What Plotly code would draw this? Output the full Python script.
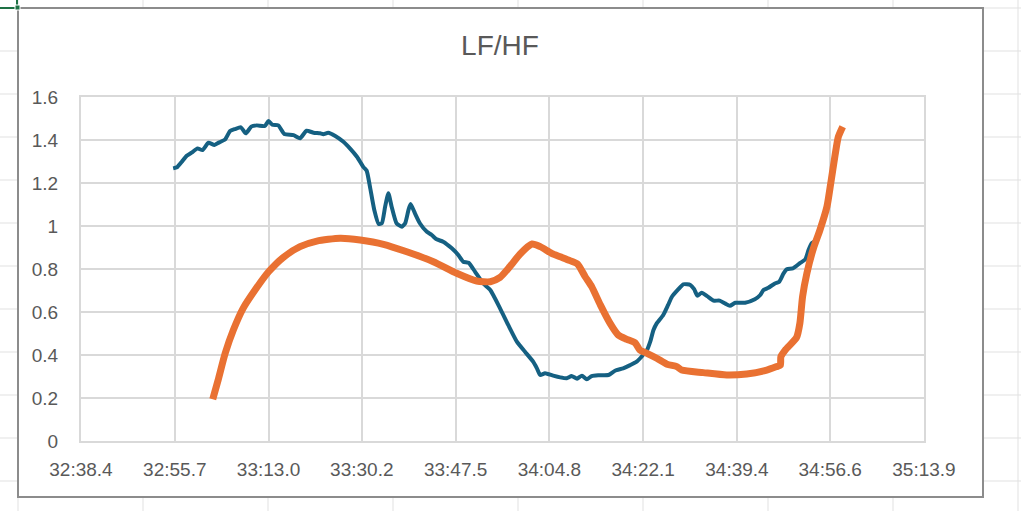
import plotly.graph_objects as go

# ---------------- data ----------------
title_text = "LF/HF"

x_tick_labels = ["32:38.4", "32:55.7", "33:13.0", "33:30.2", "33:47.5",
                 "34:04.8", "34:22.1", "34:39.4", "34:56.6", "35:13.9"]
y_tick_values = [0, 0.2, 0.4, 0.6, 0.8, 1.0, 1.2, 1.4, 1.6]
y_tick_labels = ["0", "0.2", "0.4", "0.6", "0.8", "1", "1.2", "1.4", "1.6"]

# series 1 (blue): time in seconds, LF/HF value
blue_t = [1975.4, 1976.1, 1977.0, 1977.9, 1978.8, 1979.9, 1980.8, 1981.9, 1983.0, 1983.9,
          1985.0, 1985.9, 1986.8, 1987.9, 1988.8, 1989.8, 1990.8, 1992.3, 1993.0, 1993.7,
          1994.8, 1995.9, 1997.6, 1998.8, 2000.0, 2001.3, 2002.5, 2003.1, 2004.0, 2005.3,
          2006.8, 2008.0, 2009.3, 2010.5, 2011.1, 2011.7, 2012.5, 2013.3, 2013.9, 2014.5,
          2015.1, 2015.7, 2016.6, 2017.6, 2018.2, 2018.8, 2019.2, 2020.0, 2020.9, 2022.2,
          2023.1, 2024.0, 2025.2, 2026.8, 2028.0, 2028.9, 2029.9, 2031.1, 2032.6, 2033.9,
          2035.7, 2037.2, 2038.8, 2040.3, 2041.8, 2042.5, 2043.1, 2044.0, 2045.5, 2046.8,
          2048.0, 2048.9, 2049.9, 2050.8, 2051.7, 2052.6, 2053.8, 2055.7, 2056.9, 2058.4,
          2059.7, 2060.9, 2061.8, 2062.8, 2063.4, 2064.0, 2064.6, 2065.8, 2066.7, 2067.4,
          2068.6, 2069.5, 2070.8, 2071.5, 2072.1, 2072.9, 2073.9, 2075.1, 2076.2, 2077.2,
          2078.1, 2079.1, 2080.9, 2082.7, 2083.7, 2084.3, 2085.2, 2086.4, 2087.2, 2088.0,
          2088.6, 2089.7, 2091.0, 2092.0, 2092.6, 2093.2, 2094.2]
blue_v = [1.268, 1.273, 1.299, 1.327, 1.341, 1.361, 1.353, 1.387, 1.377, 1.389,
          1.403, 1.442, 1.451, 1.459, 1.431, 1.462, 1.468, 1.465, 1.488, 1.471,
          1.468, 1.428, 1.423, 1.408, 1.443, 1.434, 1.431, 1.427, 1.434, 1.419,
          1.392, 1.361, 1.322, 1.274, 1.257, 1.183, 1.074, 1.009, 1.013, 1.090,
          1.152, 1.090, 1.013, 0.997, 1.013, 1.074, 1.102, 1.059, 1.013, 0.973,
          0.958, 0.938, 0.927, 0.896, 0.865, 0.834, 0.829, 0.787, 0.733, 0.702,
          0.617, 0.540, 0.462, 0.415, 0.369, 0.338, 0.307, 0.315, 0.304, 0.296,
          0.292, 0.302, 0.290, 0.304, 0.287, 0.302, 0.306, 0.307, 0.327, 0.338,
          0.353, 0.369, 0.392, 0.423, 0.462, 0.516, 0.547, 0.586, 0.633, 0.671,
          0.706, 0.729, 0.726, 0.706, 0.676, 0.690, 0.674, 0.653, 0.653, 0.640,
          0.629, 0.643, 0.643, 0.659, 0.679, 0.702, 0.713, 0.733, 0.741, 0.780,
          0.799, 0.803, 0.827, 0.845, 0.888, 0.920, 0.935]

# series 2 (orange)
orange_t = [1982.7, 1983.7, 1985.0, 1986.5, 1988.3, 1990.5, 1993.0, 1995.7, 1998.8, 2001.9,
            2006.2, 2009.9, 2014.2, 2018.5, 2023.4, 2027.7, 2031.4, 2033.9, 2035.7, 2037.5,
            2039.4, 2041.6, 2043.1, 2045.2, 2046.8, 2048.6, 2050.0, 2051.4, 2052.6, 2054.2,
            2056.0, 2057.5, 2059.1, 2060.6, 2061.5, 2062.8, 2064.6, 2066.5, 2068.3, 2069.2,
            2073.2, 2077.5, 2081.2, 2084.9, 2086.7, 2087.4, 2087.5, 2088.3, 2090.4, 2091.0,
            2091.5, 2092.3, 2093.5, 2094.7, 2096.0, 2096.7, 2097.5, 2098.1, 2098.9]
orange_v = [0.194, 0.284, 0.408, 0.516, 0.617, 0.702, 0.787, 0.854, 0.904, 0.930,
            0.943, 0.935, 0.915, 0.880, 0.834, 0.780, 0.744, 0.741, 0.761, 0.811,
            0.870, 0.916, 0.904, 0.873, 0.857, 0.839, 0.823, 0.764, 0.718, 0.633,
            0.547, 0.493, 0.473, 0.457, 0.423, 0.408, 0.385, 0.357, 0.346, 0.330,
            0.318, 0.307, 0.312, 0.330, 0.346, 0.353, 0.392, 0.423, 0.482, 0.547,
            0.671, 0.780, 0.896, 0.981, 1.090, 1.199, 1.330, 1.415, 1.462]


def to_seconds(label):
    m, s = label.split(":")
    return int(m) * 60 + float(s)


x_tick_values = [to_seconds(t) for t in x_tick_labels]

# ---------------- layout geometry (pixels) ----------------
W, H = 1021, 511
ML, MR, MT, MB = 81, 97, 97, 70
PW, PH = W - ML - MR, H - MT - MB


def px_x(px):
    return (px - ML) / PW


def px_y(py):
    return (H - MB - py) / PH


TEXT = "#595959"
GRID = "#d9d9d9"
FONT = "Liberation Sans"

fig = go.Figure()
fig.add_trace(go.Scatter(x=blue_t, y=blue_v, mode="lines",
                         line=dict(color="#156082", width=4, shape="spline", smoothing=0.5),
                         showlegend=False, hoverinfo="x+y"))
fig.add_trace(go.Scatter(x=orange_t, y=orange_v, mode="lines",
                         line=dict(color="#E97132", width=7, shape="spline", smoothing=0.6),
                         showlegend=False, hoverinfo="x+y"))

shapes = []
# spreadsheet cell grid behind the chart
sheet_cols = [18, 143, 268, 393, 518, 643, 768, 893, 1018]
sheet_rows = [8, 51, 94, 137, 180, 223, 266, 309, 352, 395, 438, 481]
for cx in sheet_cols:
    shapes.append(dict(type="line", xref="paper", yref="paper",
                       x0=px_x(cx), x1=px_x(cx), y0=px_y(0), y1=px_y(H),
                       line=dict(color="#e1e1e1", width=1), layer="below"))
for ry in sheet_rows:
    shapes.append(dict(type="line", xref="paper", yref="paper",
                       x0=px_x(0), x1=px_x(W), y0=px_y(ry), y1=px_y(ry),
                       line=dict(color="#e1e1e1", width=1), layer="below"))
# chart frame
shapes.append(dict(type="rect", xref="paper", yref="paper",
                   x0=px_x(18), x1=px_x(983), y0=px_y(497), y1=px_y(8),
                   fillcolor="white", line=dict(color="#8c8c8c", width=2), layer="below"))
# green cell-selection marker top-left
shapes.append(dict(type="line", xref="paper", yref="paper",
                   x0=px_x(0), x1=px_x(16), y0=px_y(8), y1=px_y(8),
                   line=dict(color="#1e7145", width=2), layer="above"))
shapes.append(dict(type="line", xref="paper", yref="paper",
                   x0=px_x(17), x1=px_x(17), y0=px_y(0), y1=px_y(6),
                   line=dict(color="#1e7145", width=2), layer="above"))
shapes.append(dict(type="rect", xref="paper", yref="paper",
                   x0=px_x(15), x1=px_x(20), y0=px_y(10), y1=px_y(5),
                   fillcolor="#1e7145", line=dict(color="white", width=1), layer="above"))

fig.update_layout(
    width=W, height=H, autosize=False,
    margin=dict(l=ML, r=MR, t=MT, b=MB, pad=0),
    paper_bgcolor="white", plot_bgcolor="rgba(0,0,0,0)",
    font=dict(family=FONT, color=TEXT, size=19),
    title=dict(text=title_text, x=500 / W, xref="container", xanchor="center",
               y=1 - 45 / H, yref="container", yanchor="middle",
               font=dict(family=FONT, size=28, color=TEXT)),
    shapes=shapes,
    showlegend=False,
    xaxis=dict(range=[x_tick_values[0], x_tick_values[-1]],
               tickmode="array", tickvals=x_tick_values, ticktext=x_tick_labels,
               showgrid=True, gridcolor=GRID, gridwidth=2,
               showline=True, linecolor=GRID, linewidth=2, mirror=True,
               zeroline=False, ticks="", ticklabelstandoff=10,
               tickfont=dict(family=FONT, size=19, color=TEXT)),
    yaxis=dict(range=[0, 1.6],
               tickmode="array", tickvals=y_tick_values, ticktext=y_tick_labels,
               showgrid=True, gridcolor=GRID, gridwidth=2,
               showline=True, linecolor=GRID, linewidth=2, mirror=True,
               zeroline=False, ticks="", ticklabelstandoff=17,
               tickfont=dict(family=FONT, size=19, color=TEXT)),
)

fig.write_html("out.html",
               config={"displayModeBar": False},
               post_script="document.body.style.margin='0';document.body.style.overflow='hidden';")
